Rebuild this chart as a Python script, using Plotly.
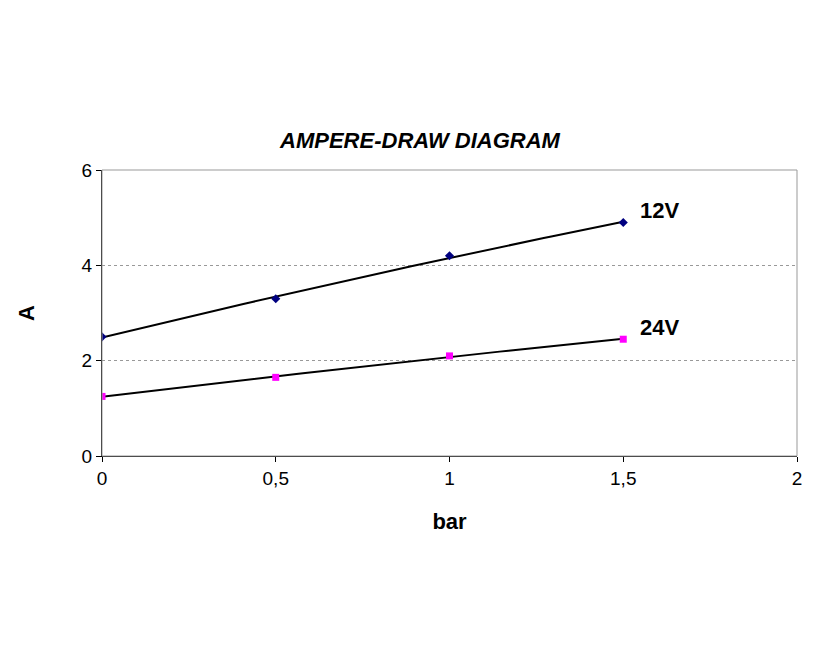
import numpy as np
import plotly.graph_objects as go

bar = [0, 0.5, 1, 1.5]
amp_12v = [2.5, 3.3, 4.2, 4.9]
amp_24v = [1.25, 1.65, 2.1, 2.45]

fig = go.Figure()
xs = np.linspace(0, 1.5, 60)
for ys, name, color, sym in [(amp_12v, '12V', '#000080', 'diamond'),
                             (amp_24v, '24V', '#ff00ff', 'square')]:
    # trendline (2nd order fit, like the spreadsheet)
    c = np.polyfit(bar, ys, 2)
    fig.add_trace(go.Scatter(x=xs, y=np.polyval(c, xs), mode='lines',
                             line=dict(color='black', width=2), showlegend=False))
    fig.add_trace(go.Scatter(x=bar, y=ys, mode='markers', name=name,
                             marker=dict(color=color, symbol=sym, size=7), showlegend=False))
    fig.add_annotation(x=1.5, y=ys[-1] + 0.25, text='<b>' + name + '</b>', showarrow=False,
                       xanchor='left', xshift=15, font=dict(size=22, color='black'))

fig.update_layout(
    title=dict(text='<b><i>AMPERE-DRAW DIAGRAM</i></b>', x=0.5, xanchor='center',
               y=0.81, font=dict(size=22, color='black')),
    font=dict(family='Liberation Sans, Arial', size=19, color='black'),
    width=824, height=654, plot_bgcolor='white', paper_bgcolor='white',
    margin=dict(l=94, r=35, t=162, b=206),
)
fig.update_xaxes(range=[0, 2], tickvals=[0, 0.5, 1, 1.5, 2],
                 ticktext=['0', '0,5', '1', '1,5', '2'], showgrid=False,
                 showline=True, linecolor='black', ticks='outside',
                 tickcolor='black', ticklen=5, zeroline=False,
                 title=dict(text='<b>bar</b>', font=dict(size=22), standoff=25))
fig.update_yaxes(range=[0, 6], tickvals=[0, 2, 4, 6], showgrid=True,
                 gridcolor='#999999', griddash='dot', showline=True, linecolor='black',
                 ticks='outside', tickcolor='black', ticklen=5, zeroline=False,
                 title=dict(text='<b>A</b>', font=dict(size=22), standoff=40))
fig.add_shape(type='rect', xref='paper', yref='paper', x0=0, y0=0, x1=1, y1=1,
              line=dict(color='#999999', width=1))
fig.write_html('out.html')
